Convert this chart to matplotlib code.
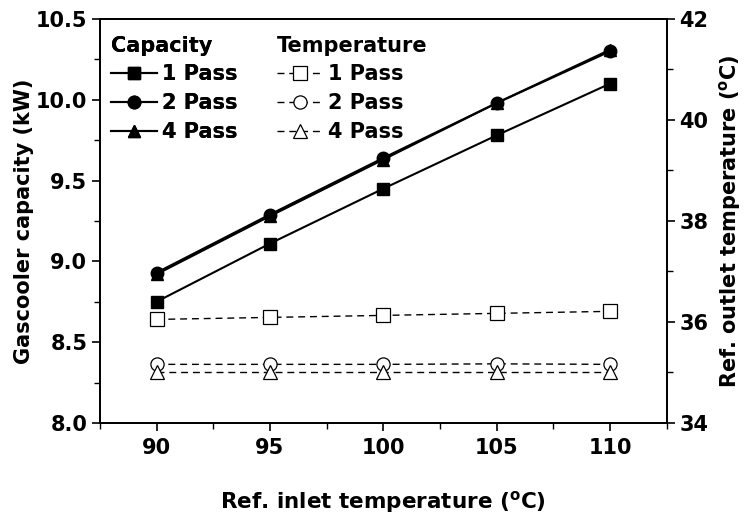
import matplotlib
matplotlib.use("Agg")
import matplotlib.pyplot as plt
from matplotlib.ticker import MultipleLocator

plt.rcParams['font.family'] = ['DejaVu Sans']
plt.rcParams['font.weight'] = 'bold'
plt.rcParams['mathtext.default'] = 'bf'

inlet_temp = [90, 95, 100, 105, 110]

# gascooler capacity (kW)
cap_1pass = [8.75, 9.11, 9.45, 9.78, 10.10]
cap_2pass = [8.93, 9.29, 9.64, 9.98, 10.30]
cap_4pass = [8.92, 9.28, 9.63, 9.98, 10.31]

# refrigerant outlet temperature (C)
out_1pass = [36.05, 36.09, 36.13, 36.17, 36.21]
out_2pass = [35.16, 35.16, 35.16, 35.17, 35.16]
out_4pass = [35.00, 35.00, 35.00, 35.00, 35.00]

labels = ['1 Pass', '2 Pass', '4 Pass']
markers = ['s', 'o', '^']

fs = 15

fig = plt.figure(figsize=(7.45, 5.28), dpi=100)
ax = fig.add_axes([0.134, 0.199, 0.761, 0.765])
ax2 = ax.twinx()

cap_lines = []
for y, m, lab in zip([cap_1pass, cap_2pass, cap_4pass], markers, labels):
    ln, = ax.plot(inlet_temp, y, color='black', lw=1.5, marker=m, ms=9,
                  mfc='black', mec='black', label=lab)
    cap_lines.append(ln)

tmp_lines = []
for y, m, lab in zip([out_1pass, out_2pass, out_4pass], markers, labels):
    ln, = ax2.plot(inlet_temp, y, color='black', lw=1.0, ls=(0, (5, 3.5)),
                   marker=m, ms=9.5, mfc='white', mec='black', mew=0.9, label=lab)
    tmp_lines.append(ln)

ax.set_xlim(87.5, 112.5)
ax.set_ylim(8.0, 10.5)
ax2.set_ylim(34, 42)
ax.xaxis.set_major_locator(MultipleLocator(5))
ax.xaxis.set_minor_locator(MultipleLocator(2.5))
ax.yaxis.set_major_locator(MultipleLocator(0.5))
ax.yaxis.set_minor_locator(MultipleLocator(0.25))
ax2.yaxis.set_major_locator(MultipleLocator(2))
ax2.yaxis.set_minor_locator(MultipleLocator(1))

for a in (ax, ax2):
    a.tick_params(which='major', direction='out', length=6, width=1.2,
                  labelsize=fs, pad=3)
    a.tick_params(which='minor', direction='out', length=4, width=1.0)
    for s in a.spines.values():
        s.set_linewidth(1.3)
ax.tick_params(axis='x', which='both', top=False, pad=5)

ax.set_xlabel('Ref. inlet temperature ($^\\mathregular{o}$C)', fontsize=fs + 0.5,
              fontweight='bold', labelpad=22)
ax.set_ylabel('Gascooler capacity (kW)', fontsize=fs, fontweight='bold', labelpad=1)
ax2.set_ylabel('Ref. outlet temperature ($^\\mathregular{o}$C)', fontsize=fs,
               fontweight='bold', labelpad=6)

leg_kw = dict(loc='upper left', frameon=False, fontsize=fs,
              handlelength=2.2, handletextpad=0.25, labelspacing=0.42,
              borderaxespad=0.5, borderpad=0.3, alignment='left')

leg1 = ax.legend(handles=cap_lines, title='Capacity',
                 bbox_to_anchor=(-0.01, 1.0), **leg_kw)
leg1.get_title().set_fontweight('bold')
leg1.get_title().set_fontsize(fs)
ax.add_artist(leg1)

leg2 = ax2.legend(handles=tmp_lines, title='Temperature',
                  bbox_to_anchor=(0.283, 1.0), **leg_kw)
leg2.get_title().set_fontweight('bold')
leg2.get_title().set_fontsize(fs)

fig.savefig('out.png', dpi=100)
